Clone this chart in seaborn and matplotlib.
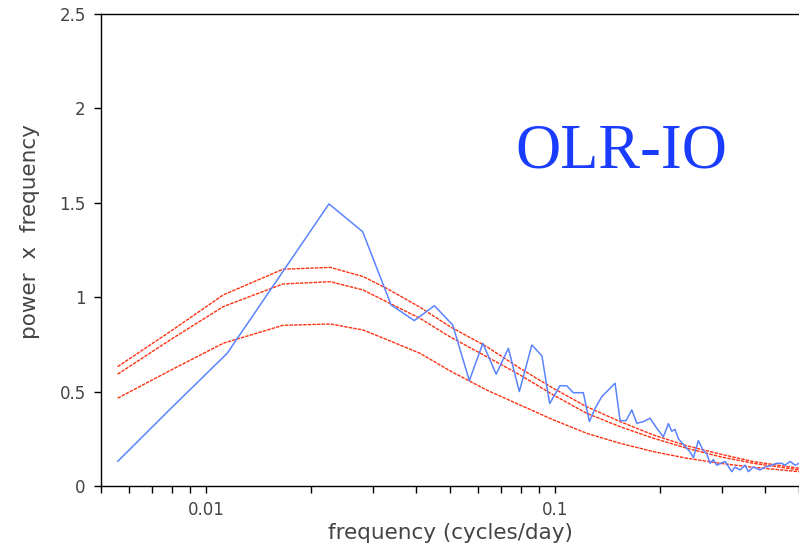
import pandas as pd
import matplotlib.pyplot as plt
import seaborn as sns
from matplotlib.ticker import LogLocator, NullFormatter

sns.set_theme(style="white")
plt.rcParams['figure.facecolor'] = 'white'
plt.rcParams['font.family'] = ['DejaVu Sans']

# spectrum (blue)
freq = [0.00558, 0.00788, 0.0115, 0.0225, 0.0281, 0.0339, 0.0395, 0.0451, 0.0509,
        0.0568, 0.0621, 0.0678, 0.0735, 0.0790, 0.0858, 0.0917, 0.0965, 0.1033,
        0.1080, 0.1128, 0.1205, 0.1254, 0.1302, 0.1361, 0.1486, 0.1536, 0.1597,
        0.1659, 0.1715, 0.1791, 0.1872, 0.1956, 0.2043, 0.2112, 0.2160, 0.2207,
        0.2256, 0.2332, 0.2437, 0.2491, 0.2574, 0.2655, 0.2721, 0.2781, 0.2841,
        0.2906, 0.3070, 0.3208, 0.3279, 0.3389, 0.3503, 0.3581, 0.3700, 0.3867,
        0.3996, 0.4177, 0.4317, 0.4462, 0.4560, 0.4715, 0.4873, 0.5000]
power = [0.130, 0.406, 0.703, 1.494, 1.347, 0.959, 0.876, 0.955, 0.853,
         0.558, 0.756, 0.592, 0.729, 0.500, 0.747, 0.689, 0.436, 0.531,
         0.531, 0.494, 0.494, 0.341, 0.411, 0.473, 0.544, 0.346, 0.346,
         0.403, 0.332, 0.341, 0.359, 0.306, 0.260, 0.330, 0.290, 0.300,
         0.250, 0.220, 0.180, 0.150, 0.240, 0.190, 0.170, 0.120, 0.140,
         0.110, 0.130, 0.076, 0.100, 0.085, 0.110, 0.076, 0.100, 0.085,
         0.100, 0.110, 0.120, 0.120, 0.110, 0.130, 0.110, 0.120]

# red-noise reference curves
freq_red = [0.00558, 0.00788, 0.0112, 0.0166, 0.0227, 0.0282, 0.0329, 0.0410,
            0.0500, 0.0637, 0.0794, 0.0989, 0.1232, 0.1536, 0.1913, 0.2385,
            0.2971, 0.370, 0.500]
red_upper = [0.632, 0.817, 1.012, 1.148, 1.158, 1.109, 1.047, 0.947, 0.844, 0.738,
             0.623, 0.517, 0.420, 0.341, 0.270, 0.213, 0.169, 0.129, 0.094]
red_mid = [0.592, 0.773, 0.950, 1.070, 1.082, 1.038, 0.976, 0.888, 0.790, 0.685,
           0.588, 0.482, 0.385, 0.314, 0.253, 0.200, 0.155, 0.120, 0.085]
red_lower = [0.465, 0.611, 0.756, 0.851, 0.858, 0.826, 0.776, 0.703, 0.610, 0.508,
             0.429, 0.350, 0.279, 0.226, 0.182, 0.147, 0.120, 0.099, 0.076]

red_df = pd.DataFrame({
    'freq': freq_red * 3,
    'value': red_upper + red_mid + red_lower,
    'curve': ['upper'] * len(freq_red) + ['mid'] * len(freq_red) + ['lower'] * len(freq_red),
})

fig = plt.figure(figsize=(7.99, 5.49), dpi=100)
ax = fig.add_axes([0.1264, 0.1148, 0.8736, 0.8597])

sns.lineplot(data=red_df, x='freq', y='value', hue='curve', estimator=None,
             palette=['#ff3010'] * 3, linewidth=1.0, dashes=False, legend=False, ax=ax)
for ln in ax.get_lines():
    ln.set_linestyle((0, (2.5, 0.8)))
sns.lineplot(x=freq, y=power, estimator=None, sort=False, color='#5a84ff',
             linewidth=1.1, ax=ax)

ax.set_xscale('log')
ax.set_xlim(0.005, 0.5)
ax.set_ylim(0, 2.5)
ax.set_xticks([0.01, 0.1], ['0.01', '0.1'])
ax.xaxis.set_minor_locator(LogLocator(base=10, subs=range(2, 10)))
ax.xaxis.set_minor_formatter(NullFormatter())
ax.set_yticks([0, 0.5, 1, 1.5, 2, 2.5], ['0', '0.5', '1', '1.5', '2', '2.5'])

ax.tick_params(axis='both', which='both', direction='out', length=5, width=1,
               color='black', labelsize=12, labelcolor='#444444', pad=6)
ax.tick_params(axis='x', which='both', bottom=True)
ax.tick_params(axis='y', left=True)

for side in ['left', 'bottom', 'top']:
    ax.spines[side].set_color('black')
    ax.spines[side].set_linewidth(1)
ax.spines['right'].set_visible(False)

ax.set_xlabel('frequency (cycles/day)', fontsize=15.5, color='#444444', labelpad=3)
ax.set_ylabel('power  x  frequency', fontsize=15.5, color='#444444')
ax.yaxis.set_label_coords(-0.088, 0.54)

fig.text(515 / 799, 1 - 167 / 549, 'OLR-IO', fontsize=45, family='Liberation Serif',
         color='#1a3cff', va='baseline', ha='left')

fig.savefig('out.png', dpi=100)
